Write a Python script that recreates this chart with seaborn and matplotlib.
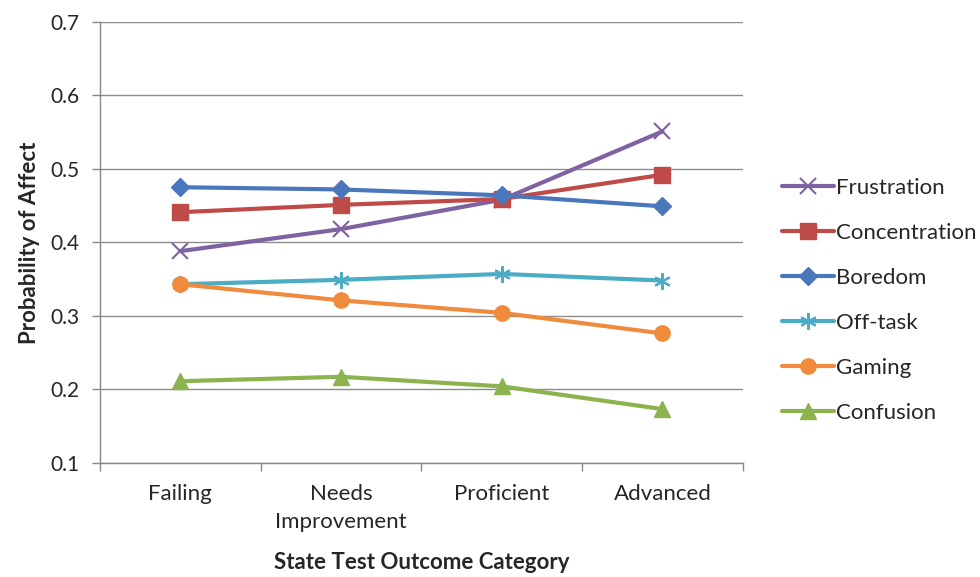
import matplotlib
matplotlib.use("Agg")
import matplotlib.pyplot as plt
import seaborn as sns
import pandas as pd
import numpy as np

categories = ["Failing", "Needs\nImprovement", "Proficient", "Advanced"]
series_names = ["Frustration", "Concentration", "Boredom", "Off-task", "Gaming", "Confusion"]
frustration = [0.388, 0.418, 0.458, 0.551]
concentration = [0.441, 0.451, 0.459, 0.492]
boredom = [0.475, 0.472, 0.464, 0.449]
off_task = [0.343, 0.349, 0.357, 0.348]
gaming = [0.343, 0.321, 0.304, 0.276]
confusion = [0.211, 0.217, 0.204, 0.173]
y_ticks = [0.1, 0.2, 0.3, 0.4, 0.5, 0.6, 0.7]

values = [frustration, concentration, boredom, off_task, gaming, confusion]
colors = ["#7E62A1", "#BE4B48", "#4A76BB", "#4BACC6", "#F08A3C", "#8CB34E"]
markers = ["x", "s", "D", (6, 2, 0), "o", "^"]
msizes = [12, 11, 9, 12, 11, 11]

rows = []
for name, vals in zip(series_names, values):
    for i, v in enumerate(vals):
        rows.append({"series": name, "pos": i, "value": v})
df = pd.DataFrame(rows)

sns.set_theme(style="white")
plt.rcParams['font.family'] = ['Lato', 'DejaVu Sans']

fig = plt.figure(figsize=(9.8, 5.77), dpi=100)
ax = fig.add_axes([0.102, 0.198, 0.656, 0.764])

for name, col, mk, ms in zip(series_names, colors, markers, msizes):
    sub = df[df["series"] == name]
    sns.lineplot(data=sub, x="pos", y="value", ax=ax, color=col, marker=mk,
                 markersize=ms, linewidth=3, label=name,
                 markeredgecolor=col, markeredgewidth=1.5 if mk in ("x", (6, 2, 0)) else 1,
                 legend=False)

ax.set_xlim(-0.5, 3.5)
ax.set_ylim(0.1, 0.7)
ax.set_yticks(y_ticks)
ax.set_yticklabels([f"{t:.1f}" for t in y_ticks], fontsize=15)
ax.set_xticks(range(len(categories)))
ax.set_xticklabels(categories, fontsize=16, linespacing=1.5)
ax.set_xticks(np.arange(-0.5, 3.6, 1.0), minor=True)
ax.tick_params(axis="x", which="major", length=0, pad=15)
ax.tick_params(axis="x", which="minor", length=6, color="#888888", width=1, direction="out", bottom=True)
ax.tick_params(axis="y", which="major", length=6, color="#888888", width=1, direction="out", left=True, pad=9)
ax.grid(axis="y", color="#8C8C8C", linewidth=1)
ax.grid(axis="x", visible=False)
for s in ["top", "right"]:
    ax.spines[s].set_visible(False)
for s in ["left", "bottom"]:
    ax.spines[s].set_color("#888888")
    ax.spines[s].set_linewidth(1)
ax.set_axisbelow(True)

ax.set_xlabel("State Test Outcome Category", fontsize=16, fontweight="bold", labelpad=15)
ax.set_ylabel("Probability of Affect", fontsize=16, fontweight="bold", labelpad=7)

handles, labels = ax.get_legend_handles_labels()
fig.legend(handles, labels, loc="upper left", bbox_to_anchor=(0.778, 0.726),
           frameon=False, fontsize=16, labelspacing=1.12, handlelength=2.3,
           handletextpad=0.1)

fig.savefig("out.png", dpi=100)
